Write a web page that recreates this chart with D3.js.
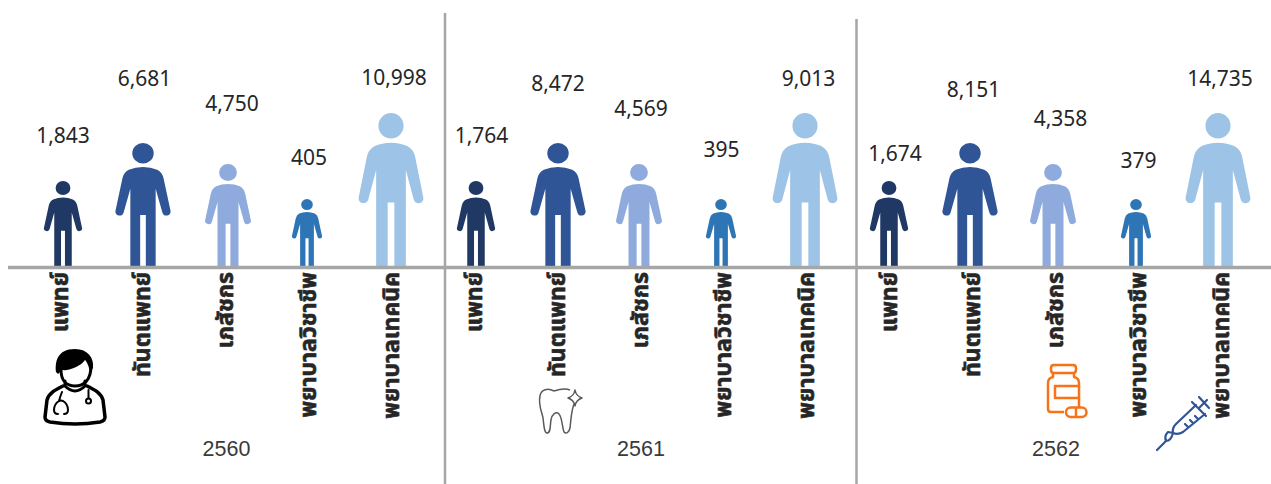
<!DOCTYPE html>
<html><head><meta charset="utf-8">
<script src="https://cdn.jsdelivr.net/npm/d3@7/dist/d3.min.js"></script>
<style>html,body{margin:0;background:#fff;overflow:hidden}</style></head>
<body><svg id="c" width="1271" height="484"></svg>
<script>
const years = ["2560","2561","2562"];
const roles = ["แพทย์","ทันตแพทย์","เภสัชกร","พยาบาลวิชาชีพ","พยาบาลเทคนิค"];
const values2560 = [1843,6681,4750,405,10998];
const values2561 = [1764,8472,4569,395,9013];
const values2562 = [1674,8151,4358,379,14735];
const roleColors = ["#1f3864","#2f5597","#8faadc","#2e75b6","#9dc3e6"];

const allValues = [values2560,values2561,values2562];
// hand placed offsets of the source graphic
const labelGaps = [[38,57,53,34,28],[38,52,48,42,27],[20,46,38,31,27]];
const labelShift = [[0,-1,4,-1.5,1],[6,0,0.5,-1.5,3],[7,3,7.5,3,2]];
const personShift = [[0,-2.5,0,-3.5,-2],[0.5,0,-1.5,-2,-0.5],[1,-0.5,0,0.5,0]];

const svg = d3.select("#c");
const baseY = 266;
const x = d3.scalePoint().domain(d3.range(15)).range([63,1218]);
const xRole = d3.scalePoint().domain(d3.range(15)).range([67.5,1229]);
// Pictogram height follows the rank of the value inside its year
const heightByRank = d3.scaleLinear().domain([0,1,2,3,4]).range([67,85,102,123,153]);
const widthFactor = d3.scaleThreshold().domain([4]).range([1.05,0.99]);

const personPath = "M-.098,1 L-.098,.372 L-.15,.565 A.032,.032 0 0 1 -.213,.55 L-.16,.29 Q-.15,.24 -.11,.218 Q-.06,.195 0,.195 Q.06,.195 .11,.218 Q.15,.24 .16,.29 L.213,.55 A.032,.032 0 0 1 .15,.565 L.098,.372 L.098,1 L.022,1 L.022,.585 L-.022,.585 L-.022,1 Z M.083,.083 A.083,.083 0 1 1 -.083,.083 A.083,.083 0 1 1 .083,.083 Z";

const rows = allValues.flatMap((vals,g)=>{
  const order = d3.range(5).sort((a,b)=>vals[a]-vals[b]);
  return vals.map((v,i)=>({g,i,v,rank:order.indexOf(i),idx:g*5+i}));
});

const people = svg.selectAll("g.person").data(rows).join("g").attr("class","person")
  .attr("transform",d=>{const h=heightByRank(d.rank);return `translate(${x(d.idx)+personShift[d.g][d.i]},${baseY-h}) scale(${h*widthFactor(d.rank)},${h})`;});
people.append("path").attr("d",personPath).attr("fill",d=>roleColors[d.i]);

svg.selectAll("text.val").data(rows).join("text").attr("class","val")
  .attr("x",d=>x(d.idx)+labelShift[d.g][d.i])
  .attr("y",d=>baseY-heightByRank(d.rank)-labelGaps[d.g][d.i])
  .attr("text-anchor","middle")
  .attr("font-family","'Noto Sans','Open Sans',sans-serif").attr("font-size",21)
  .attr("fill","#262626")
  .text(d=>d3.format(",")(d.v));

svg.selectAll("text.role").data(rows).join("text").attr("class","role")
  .attr("transform",d=>`translate(${xRole(d.idx)},272) rotate(-90)`)
  .attr("text-anchor","end")
  .attr("font-family","'Noto Sans','Noto Sans Thai','DejaVu Sans',sans-serif")
  .attr("font-weight","bold").attr("font-size",23).attr("fill","#262626")
  .attr("stroke","#262626").attr("stroke-width",0.6)
  .text(d=>roles[d.i]);

const yearX = [226.5,641,1056];
svg.selectAll("text.year").data(years).join("text").attr("class","year")
  .attr("x",(d,i)=>yearX[i]).attr("y",456).attr("text-anchor","middle")
  .attr("font-family","'Liberation Sans',Arial,sans-serif").attr("font-size",21.5).attr("fill","#3a3a3a")
  .text(d=>d);

// Axis and year separators
const rule = "#a6a6a6";
svg.append("line").attr("x1",8).attr("x2",1271).attr("y1",267.5).attr("y2",267.5).attr("stroke",rule).attr("stroke-width",3.5);
svg.append("line").attr("x1",445).attr("x2",445).attr("y1",13).attr("y2",484).attr("stroke",rule).attr("stroke-width",2.5);
svg.append("line").attr("x1",856.5).attr("x2",856.5).attr("y1",19).attr("y2",484).attr("stroke",rule).attr("stroke-width",2.5);

// Doctor icon
const doc = svg.append("g").attr("fill","none").attr("stroke","#000").attr("stroke-linecap","round").attr("stroke-linejoin","round");
doc.append("path").attr("stroke-width",3.5).attr("d","M63,386 C55,390 49,393 47,400 L45,417 Q45,421 50,422 Q75,426 100,422 Q105,421 105,417 L103,400 C101,393 95,390 87,386");
doc.append("path").attr("stroke-width",3).attr("d","M65,381 V386 Q75,396 85,386 V381");
doc.append("path").attr("stroke-width",3).attr("d","M61,370 C61,382 68,386 75,386 C84,386 91,380 91,366");
doc.append("path").attr("fill","#000").attr("stroke","none").attr("d","M56,372 C55,362 57,349 75,349 C88,349 94,358 93,368 L90,373 C89,366 87,362 85,360 C81,366 70,371 62,370 L58,374 Z");
doc.append("path").attr("stroke-width",2).attr("d","M62,392 Q60,397 59,401 Q54,404 54,410 Q54,414 58,414 M64,414 Q68,414 68,410 Q68,404 63,401 Q61,400 59,401 M88.5,390 V398");
doc.append("circle").attr("cx",88.5).attr("cy",401).attr("r",2.5).attr("stroke-width",2);

// Tooth icon
const tooth = svg.append("g").attr("fill","none").attr("stroke","#595959").attr("stroke-width",1.5).attr("stroke-linejoin","round");
tooth.append("path").attr("d","M554,391 C548,388 541,389 540,396 C538,405 542,412 543,418 C544,425 544,433 547,433 C551,433 550,425 551,420 C552,414 556,411 559,414 C562,417 562,426 564,432 C566,434 569,433 570,428 C571,420 571,412 574,404 M570,390 C565,388 560,389 554,391");
tooth.append("path").attr("d","M575,390 Q576,396 582,398 Q576,400 575,406 Q574,400 568,398 Q574,396 575,390 Z");

// Bottle icon
const pill = svg.append("g").attr("fill","none").attr("stroke","#f97316").attr("stroke-width",2.5).attr("stroke-linejoin","round");
pill.append("path").attr("d","M1054,365 H1073 Q1076,365 1076,368 V370 Q1076,373 1073,373 H1054 Q1051,373 1051,370 V368 Q1051,365 1054,365 Z");
pill.append("path").attr("d","M1053,373 V377 Q1048,378 1048,383 V409 Q1048,412 1051,412 H1064 M1074,373 V377 Q1079,378 1079,383 V407");
pill.append("path").attr("d","M1079,386 H1055 V398 H1079");
pill.append("rect").attr("x",1066).attr("y",407.5).attr("width",20.5).attr("height",9.5).attr("rx",4.7);
pill.append("path").attr("d","M1076,407.5 V417");

// Syringe icon
const syr = svg.append("g").attr("fill","none").attr("stroke","#2f5597").attr("stroke-width",2.2).attr("stroke-linecap","round").attr("stroke-linejoin","round");
syr.append("path").attr("d","M1157,450 L1166,441 M1173,433 L1168,432 Q1164,436 1166,441 Q1171,441 1173,433 M1196,405 L1176,424 Q1172,428 1173,433 Q1178,435 1183,432 L1205,414 M1192,402 L1206,416 M1199,408 L1207,400 M1199,397 L1209,408 M1188,427 L1185,424 M1193,423 L1190,420 M1198,419 L1195,416");
</script></body></html>
